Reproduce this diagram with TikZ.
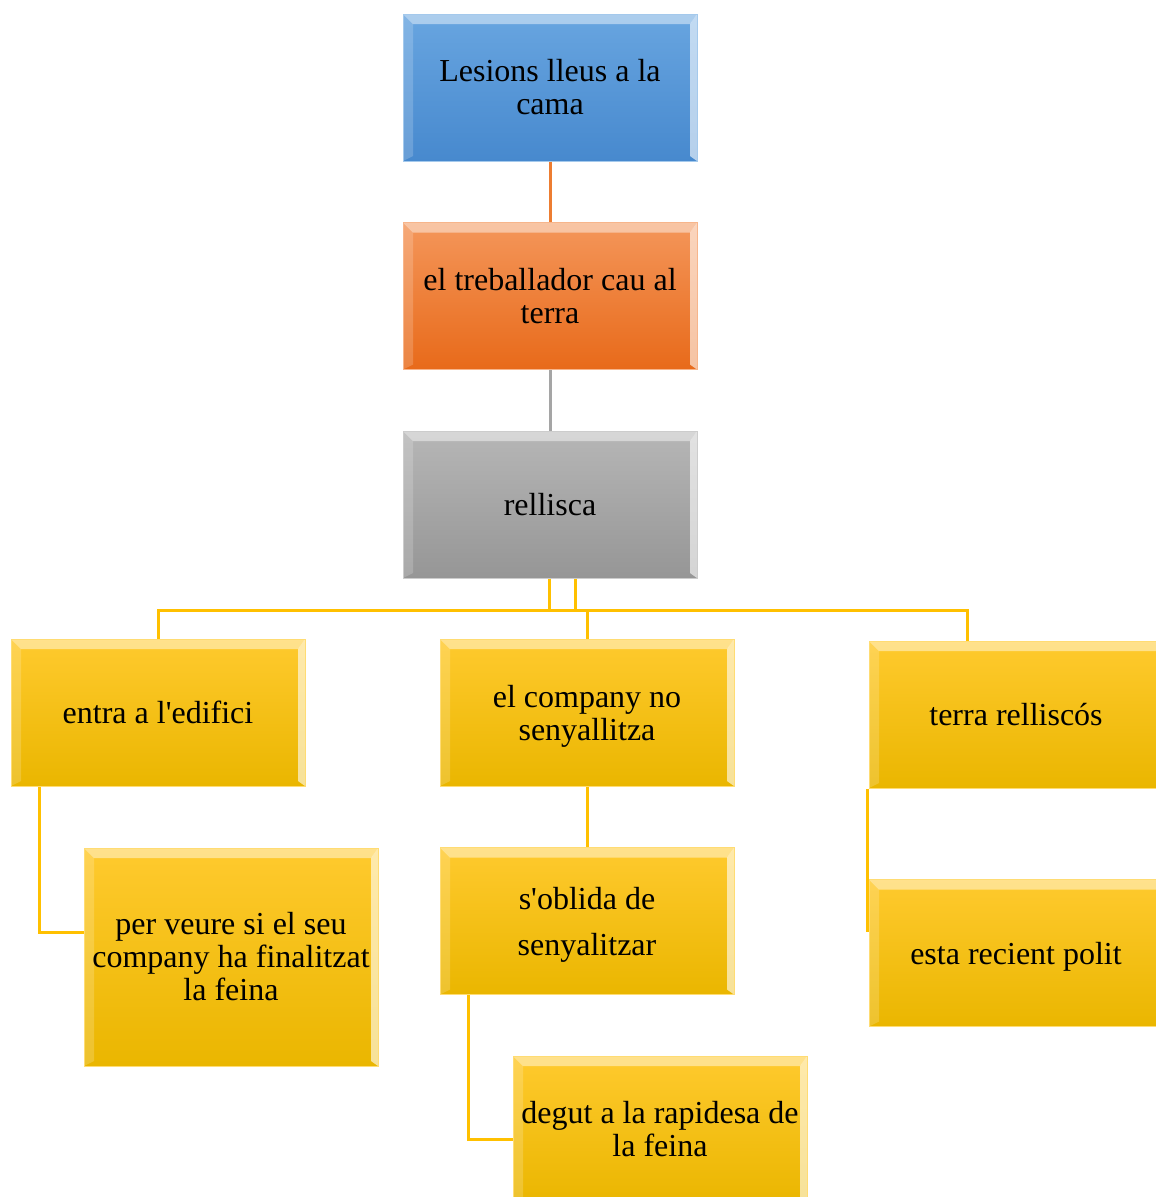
\documentclass[tikz,border=0pt]{standalone}
\usepackage{fontspec}
\newfontfamily\tnr{Liberation Serif}
\usetikzlibrary{calc}
\definecolor{gold}{HTML}{FFC000}
\definecolor{goldT}{HTML}{FFCA2E}
\definecolor{goldB}{HTML}{EAB600}
\definecolor{blueT}{HTML}{68A5E0}
\definecolor{blueB}{HTML}{4789CE}
\definecolor{orgT}{HTML}{F4965A}
\definecolor{orgB}{HTML}{E86A1A}
\definecolor{orgL}{HTML}{ED7D31}
\definecolor{grT}{HTML}{B6B6B6}
\definecolor{grB}{HTML}{969696}
\definecolor{grL}{HTML}{A5A5A5}
\tikzset{
  bev/.style={path picture={
    \coordinate (pnw) at (path picture bounding box.north west);
    \coordinate (pse) at (path picture bounding box.south east);
    \coordinate (pne) at (pnw -| pse);
    \coordinate (psw) at (pnw |- pse);
    \fill[white,opacity=.45] (pnw) -- (pne) -- ($(pne)+(-7,10)$) -- ($(pnw)+(10,10)$) -- cycle;
    \fill[white,opacity=.18] (pnw) -- ($(pnw)+(10,10)$) -- ($(psw)+(10,-5)$) -- (psw) -- cycle;
    \fill[white,opacity=.6] (pne) -- (pse) -- ($(pse)+(-7,-5)$) -- ($(pne)+(-7,10)$) -- cycle;
  }},
  box/.style={rectangle, minimum width=220.5pt, minimum height=110.25pt,
    inner sep=0pt, align=center, bev,
    font=\tnr\fontsize{24}{24.75}\selectfont, line width=0.75pt},
  nodesc/.style={text depth=0pt},
  goldbox/.style={box, top color=goldT, bottom color=goldB, draw=gold!55!white},
  bluebox/.style={box, top color=blueT, bottom color=blueB, draw=blueT!60!white},
  orgbox/.style={box, top color=orgT, bottom color=orgB, draw=orgT!70!white},
  graybox/.style={box, top color=grT, bottom color=grB, draw=grT!70!white},
  conn/.style={line width=2.25pt, gold},
}
\begin{document}
\begin{tikzpicture}[x=0.75pt,y=-0.75pt]
\useasboundingbox (0,0) rectangle (1156,1197);
\clip (0,0) rectangle (1156,1197);
\node[bluebox] (top) at (550,87.5) {Lesions lleus a la\\cama};
\node[orgbox] (tre) at (550,296) {el treballador cau al\\terra};
\node[graybox] (rel) at (550,504.5) {rellisca};
\node[goldbox] (entra) at (158,712.5) {entra a l'edifici};
\node[goldbox, nodesc] (comp) at (587,712.5) {el company no\\senyallitza};
\node[goldbox] (terra) at (1016,714.5) {terra relliscós};
\node[goldbox, minimum height=163.5pt] (per) at (231,957) {per veure si el seu\\company ha finalitzat\\la feina};
\node[goldbox, nodesc] (obl) at (587,921) {s'oblida de\\[9.75pt]senyalitzar};
\node[goldbox] (deg) at (660,1129.5) {degut a la rapidesa de\\la feina};
\node[goldbox, nodesc] (esta) at (1016,953) {esta recient polit};
\coordinate (bus) at (0,610);
\coordinate (tj) at ($(terra.north)+(-49,0)$);
\draw[line width=2.25pt, orgL] (top.south) -- (tre.north);
\draw[line width=2.25pt, grL] (tre.south) -- (rel.north);
\draw[conn] ($(rel.south)+(-1,0)$) |- (bus -| entra.north) -- (entra.north);
\draw[conn] ($(rel.south)+(-1,0)$) |- (bus -| comp.north) -- (comp.north);
\draw[conn] ($(rel.south)+(25,0)$) |- (bus -| tj) -- (tj);
\draw[conn] ($(entra.south west)+(29,0)$) |- ($(per.west)+(0,-25)$);
\draw[conn] (comp.south) -- (obl.north);
\draw[conn] ($(obl.south west)+(29,0)$) |- ($(deg.west)+(0,9.5)$);
\draw[conn] ($(terra.south west)+(-1,0)$) |- ($(esta.west)+(-1,-21)$);
\end{tikzpicture}
\end{document}
